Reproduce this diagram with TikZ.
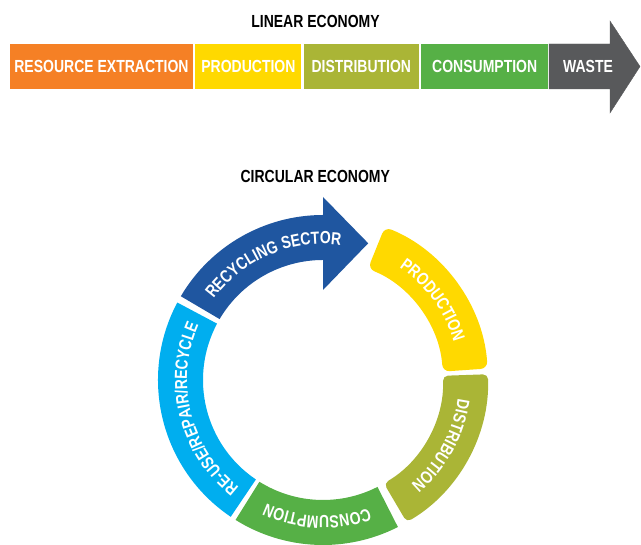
\documentclass[tikz,border=0pt]{standalone}
\usepackage{fontspec}
\setmainfont{Liberation Sans}[FakeStretch=0.8]
\usetikzlibrary{positioning,decorations.text}

\definecolor{extractOrange}{HTML}{F58025}
\definecolor{prodYellow}{HTML}{FFD900}
\definecolor{distOlive}{HTML}{AAB536}
\definecolor{consGreen}{HTML}{56B046}
\definecolor{wasteGray}{HTML}{58595B}
\definecolor{recycleBlue}{HTML}{1F56A0}
\definecolor{reuseBlue}{HTML}{00AEEF}

\newcommand{\ecofont}{\fontsize{17.5}{20}\selectfont\bfseries}

\begin{document}
\begin{tikzpicture}[x=1pt, y=1pt,
    bar/.style={minimum height=45pt, inner sep=0pt, text=white, font=\ecofont},
    title/.style={inner sep=0pt, text=black, font=\ecofont},
    ringtext/.style={decorate, decoration={text along path, text align=center,
        text={|\color{white}\ecofont|#1}}}]
    \useasboundingbox (0,0) rectangle (641,545);

    %Linear economy
    \node[title] (linear) at (315.5,524) {LINEAR ECONOMY};
    \node[bar, fill=extractOrange, minimum width=183pt] (extract) at (101.5,478.5) {RESOURCE EXTRACTION};
    \node[bar, fill=prodYellow, minimum width=106pt, right=2pt of extract] (prod) {PRODUCTION};
    \node[bar, fill=distOlive, minimum width=115pt, right=2pt of prod] (dist) {DISTRIBUTION};
    \node[bar, fill=consGreen, minimum width=127pt, right=2pt of dist] (cons) {CONSUMPTION};
    \filldraw[wasteGray] (549,456) -- (610,456) -- (610,432) -- (640,478.5) -- (610,524) -- (610,501) -- (549,501) -- cycle;
    \node[bar] (waste) at (588,478.5) {WASTE};

    %Circular economy (ring centre 323,165 - radii 120/165)
    \node[title] (circular) at (315.3,369) {CIRCULAR ECONOMY};
    \coordinate (ring) at (323,165);

    %Recycling sector 149.5-90 + head
    \fill[recycleBlue] ([shift={(149.5:165)}]ring) arc[start angle=149.5, end angle=90, radius=165]
        -- ([shift={(90:183)}]ring) -- ([shift={(71.7:144)}]ring) -- ([shift={(90:90)}]ring)
        -- ([shift={(90:120)}]ring) arc[start angle=90, end angle=149.5, radius=120] -- cycle;
    \path[ringtext=RECYCLING SECTOR] ([shift={(142:136)}]ring) arc[start angle=142, end angle=84, radius=136];

    %Production 68-4
    \fill[prodYellow, rounded corners=7pt] ([shift={(68:165)}]ring) arc[start angle=68, end angle=4, radius=165]
        -- ([shift={(4:120)}]ring) arc[start angle=4, end angle=68, radius=120] -- cycle;
    \path[ringtext=PRODUCTION] ([shift={(68:136)}]ring) arc[start angle=68, end angle=4, radius=136];

    %Distribution 2 - -59.5
    \fill[distOlive, rounded corners=5pt] ([shift={(2:165)}]ring) arc[start angle=2, end angle=-59.5, radius=165]
        -- ([shift={(-59.5:120)}]ring) arc[start angle=-59.5, end angle=2, radius=120] -- cycle;
    \path[ringtext=DISTRIBUTION] ([shift={(2:136)}]ring) arc[start angle=2, end angle=-59.5, radius=136];

    %Consumption -63 - -122
    \fill[consGreen] ([shift={(-63:165)}]ring) arc[start angle=-63, end angle=-122, radius=165]
        -- ([shift={(-122:120)}]ring) arc[start angle=-122, end angle=-63, radius=120] -- cycle;
    \path[ringtext=CONSUMPTION] ([shift={(-63:136)}]ring) arc[start angle=-63, end angle=-122, radius=136];

    %Re-use/repair/recycle 236-152
    \fill[reuseBlue] ([shift={(236:165)}]ring) arc[start angle=236, end angle=152, radius=165]
        -- ([shift={(152:120)}]ring) arc[start angle=152, end angle=236, radius=120] -- cycle;
    \path[ringtext=RE-USE/REPAIR/RECYCLE] ([shift={(236:136)}]ring) arc[start angle=236, end angle=152, radius=136];
\end{tikzpicture}
\end{document}
